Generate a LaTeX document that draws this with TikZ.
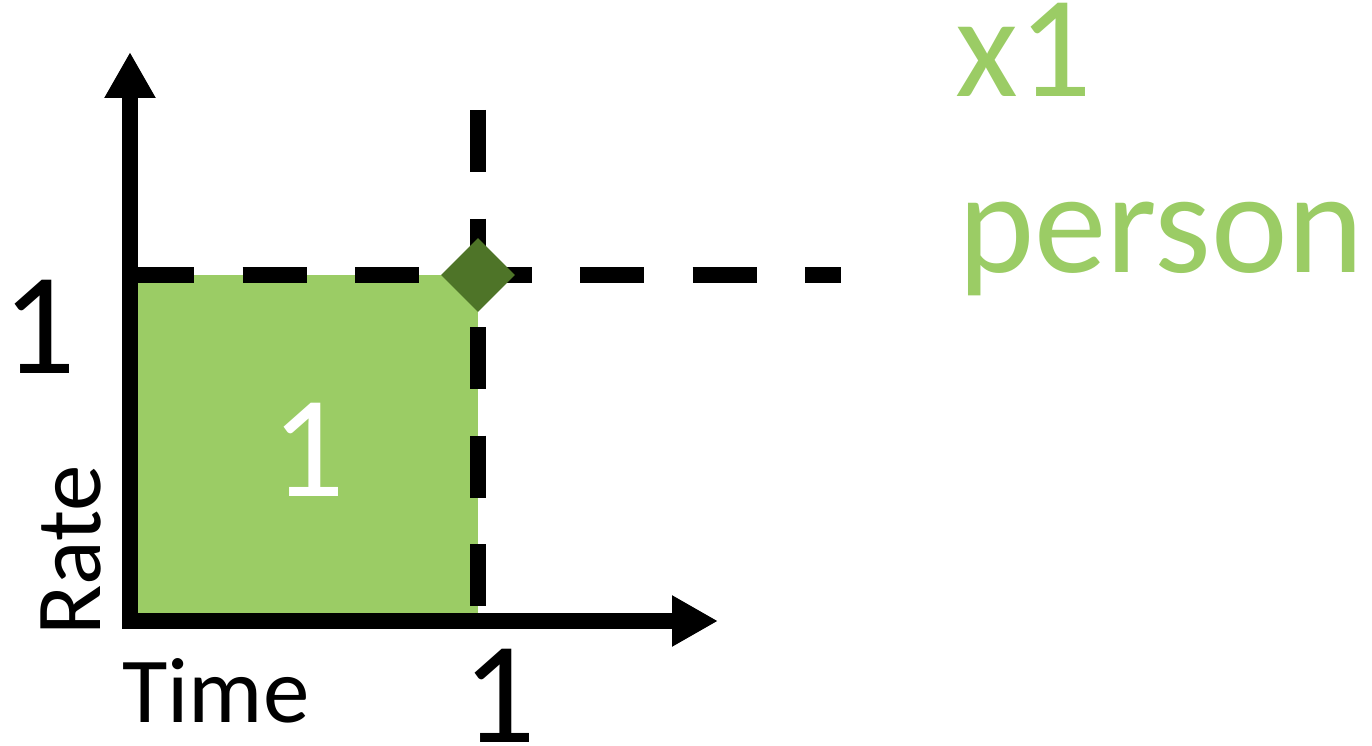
\documentclass[tikz,border=0pt]{standalone}
\usepackage{fontspec}
\setmainfont{Carlito}
\usetikzlibrary{arrows.meta,shapes.geometric}
\definecolor{areagreen}{HTML}{9BCC65}
\definecolor{markgreen}{HTML}{4E7428}
\tikzset{
  axis/.style={line width=16pt, line join=miter,
    {Triangle[length=46pt,width=48pt]}-{Triangle[length=46pt,width=48pt]}},
  guideh/.style={line width=16pt, dash pattern=on 64pt off 48.5pt},
  guidev/.style={line width=16pt, dash pattern=on 62pt off 46.5pt},
  bigfont/.style={font=\fontsize{145}{145}\selectfont, inner sep=0pt},
  labelfont/.style={font=\fontsize{93}{93}\selectfont, inner sep=0pt},
}
\begin{document}
\begin{tikzpicture}[x=1pt,y=-1pt]
\useasboundingbox (0,0) rectangle (1372,746);
% unit area
\fill[areagreen] (130,275) rectangle (478,621);
% guide lines through the point (1,1)
\coordinate (hstart) at (130,275);
\coordinate (hend) at (841,275);
\coordinate (vstart) at (478,110);
\coordinate (vend) at (478,621);
\draw[guideh] (hstart) -- (hend);
\draw[guidev] (vstart) -- (vend);
% axes
\coordinate (ytip) at (130,52);
\coordinate (origin) at (130,621);
\coordinate (xtip) at (718,621);
\draw[axis] (ytip) -- (origin) -- (xtip);
% the point (1,1)
\node[diamond, fill=markgreen, minimum width=74pt, minimum height=74pt, inner sep=0pt] (corner) at (478,275) {};
% labels
\node[bigfont, anchor=base] (yone) at (39,373) {1};
\node[bigfont, anchor=base] (xone) at (499,742) {1};
\node[bigfont, anchor=base, text=white] (area) at (308,496) {1};
\node[labelfont, anchor=base west] (time) at (122,722) {Time};
\node[labelfont, anchor=base west, rotate=90] (rate) at (100,636) {Rate};
\node[bigfont, anchor=base west, text=areagreen] (times) at (955,97) {x1};
\node[bigfont, anchor=base west, text=areagreen] (person) at (958,272) {person};
\end{tikzpicture}
\end{document}
